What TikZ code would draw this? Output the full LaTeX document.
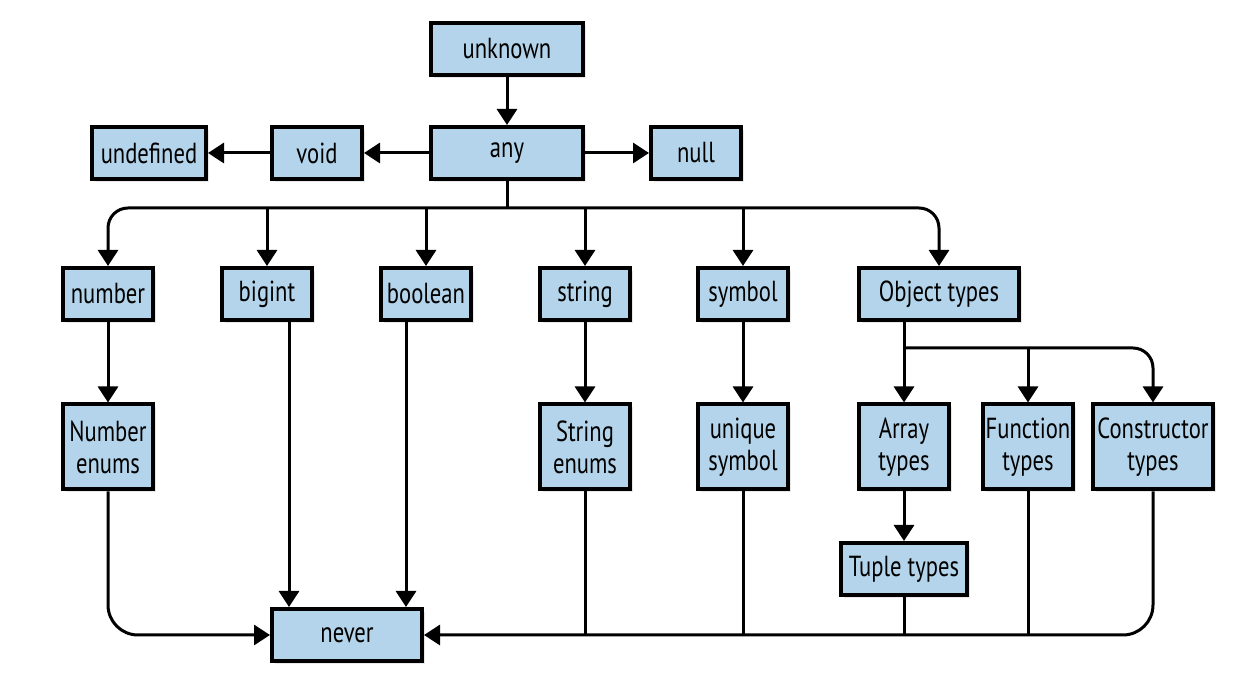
\documentclass[tikz,border=0pt]{standalone}
\usepackage{fontspec}
\setmainfont{PT Sans}[FakeStretch=0.78]
\usepackage{xcolor}
\usetikzlibrary{positioning,calc,arrows.meta,shadows}
\definecolor{boxblue}{RGB}{179,212,234}

\begin{document}
\begin{tikzpicture}[x=0.5pt,y=-0.5pt,
    box/.style={draw, line width=2pt, fill=boxblue, minimum width=45pt, minimum height=26pt,
        inner sep=0pt, align=center, font=\fontsize{14.5}{16}\selectfont,
        drop shadow={shadow xshift=1.5pt, shadow yshift=-1.5pt, opacity=0.18}},
    tall/.style={box, minimum height=42.5pt},
    arr/.style={line width=1.5pt, -{Triangle[length=8pt,width=10pt]}},
    ln/.style={line width=1.5pt}]
    \useasboundingbox (0,0) rectangle (1260,688);
    % top row
    \node[box, minimum width=76pt] (unknown) at (507,49) {unknown};
    \node[box, minimum width=76pt] (any) at (507,153) {any};
    \node[box] (void) at (317,153) {void};
    \node[box, minimum width=57pt] (undef) at (149,153) {undefined};
    \node[box] (null) at (696,153) {null};
    % primitives
    \node[box] (number) at (108,294) {number};
    \node[box] (bigint) at (267,294) {bigint};
    \node[box] (boolean) at (426,294) {boolean};
    \node[box] (string) at (585,294) {string};
    \node[box] (symbol) at (743,294) {symbol};
    \node[box, minimum width=80pt] (objtypes) at (939,294) {Object types};
    % subtypes
    \node[tall] (numenum) at (108,447) {Number\\enums};
    \node[tall] (strenum) at (585,447) {String\\enums};
    \node[tall] (usym) at (743,447) {unique\\symbol};
    \node[tall] (array) at (904,447) {Array\\types};
    \node[tall] (func) at (1028,447) {Function\\types};
    \node[tall, minimum width=60pt] (ctor) at (1153,447) {Constructor\\types};
    \node[box, minimum width=63pt] (tuple) at (904,569) {Tuple types};
    \node[box, minimum width=75pt] (never) at (347,635) {never};

    \draw[arr] (unknown) -- (any);
    \draw[arr] (any) -- (void);
    \draw[arr] (void) -- (undef);
    \draw[arr] (any) -- (null);

    % split below any
    \coordinate (split) at (507,208);
    \draw[ln] (any) -- (split);
    \draw[arr, rounded corners=10pt] (split) -| (number);
    \draw[arr, rounded corners=10pt] (split) -| (objtypes);
    \draw[arr] (bigint |- split) -- (bigint);
    \draw[arr] (boolean |- split) -- (boolean);
    \draw[arr] (string |- split) -- (string);
    \draw[arr] (symbol |- split) -- (symbol);

    \draw[arr] (number) -- (numenum);
    \draw[arr] (string) -- (strenum);
    \draw[arr] (symbol) -- (usym);

    % object types
    \coordinate (osplit) at (904,348);
    \draw[arr] (objtypes.south -| array) -- (array);
    \draw[arr, rounded corners=10pt] (osplit) -| (ctor);
    \draw[arr] (func |- osplit) -- (func);
    \draw[arr] (array) -- (tuple);

    % into never
    \draw[arr, rounded corners=15pt] (numenum) |- (never);
    \draw[arr] ([xshift=11pt]bigint.south) -- ([xshift=11pt]bigint.south |- never.north);
    \draw[arr] ([xshift=-10pt]boolean.south) -- ([xshift=-10pt]boolean.south |- never.north);
    \draw[arr, rounded corners=15pt] (ctor) |- (never);
    \draw[ln] (strenum) -- (strenum |- never);
    \draw[ln] (usym) -- (usym |- never);
    \draw[ln] (tuple) -- (tuple |- never);
    \draw[ln] (func) -- (func |- never);
\end{tikzpicture}
\end{document}
